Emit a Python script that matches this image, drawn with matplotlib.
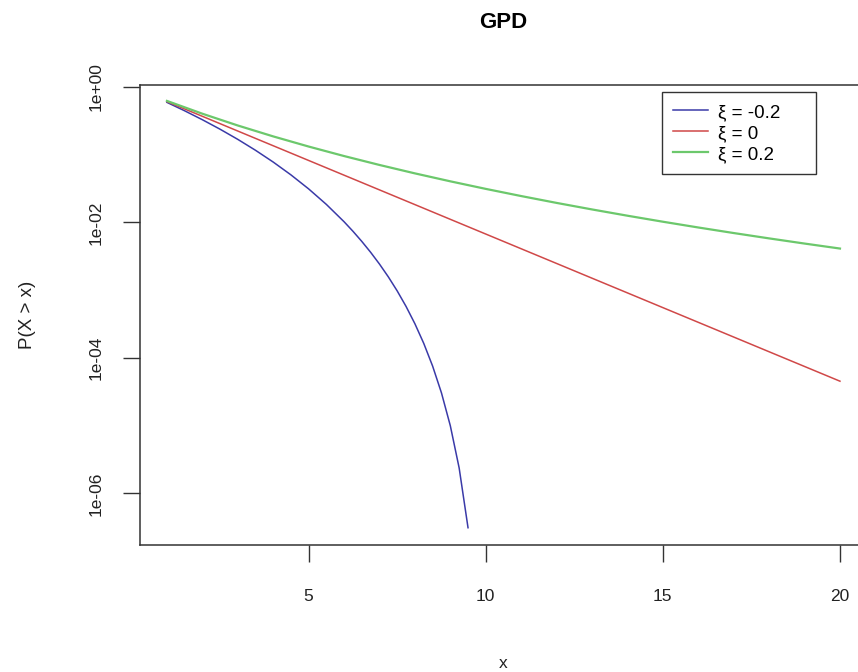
import matplotlib
matplotlib.use("Agg")
import matplotlib.pyplot as plt

plt.rcParams['font.family'] = ['Liberation Sans', 'DejaVu Sans']

# x grids
x_neg = [1, 1.5, 2, 2.5, 3, 3.5, 4, 4.5, 5, 5.5, 6, 6.25, 6.5, 6.75, 7, 7.25,
         7.5, 7.75, 8, 8.25, 8.5, 8.75, 9, 9.25, 9.5]
x_pos = [1, 2, 3, 4, 5, 6, 7, 8, 9, 10, 11, 12, 13, 14, 15, 16, 17, 18, 19, 20]

# survival probabilities P(X > x)
p_xi_neg = [0.5905, 0.4437, 0.3277, 0.2373, 0.1681, 0.1160, 0.07776, 0.05033,
            0.03125, 0.01845, 0.01024, 0.007416, 0.005252, 0.003627, 0.00243,
            0.001573, 0.0009766, 0.0005766, 0.00032, 0.0001641, 7.594e-5,
            3.052e-5, 1.0e-5, 2.373e-6, 3.125e-7]
p_xi_zero = [0.6065, 0.3679, 0.2231, 0.1353, 0.08208, 0.04979, 0.0302, 0.01832,
             0.01111, 0.006738, 0.004087, 0.002479, 0.001503, 0.000912,
             0.000553, 0.0003355, 0.0002035, 0.0001234, 7.485e-5, 4.54e-5]
p_xi_pos = [0.6209, 0.4019, 0.2693, 0.1859, 0.1317, 0.09537, 0.07043, 0.05292,
            0.04039, 0.03125, 0.02449, 0.01940, 0.01554, 0.01256, 0.01024,
            0.008417, 0.006969, 0.005810, 0.004875, 0.004115]

labels = ["ξ = -0.2", "ξ = 0", "ξ = 0.2"]
colors = ["#3a3aa8", "#d04848", "#6cc86c"]

xticks = [5, 10, 15, 20]
yticks = [1e0, 1e-2, 1e-4, 1e-6]
ytick_labels = ["1e+00", "1e-02", "1e-04", "1e-06"]

W, H = 858, 672
fig = plt.figure(figsize=(W / 100, H / 100), dpi=100)
L, R, T, B = 140.0, 866.9, 84.5, 545.0
ax = fig.add_axes([L / W, (H - B) / H, (R - L) / W, (B - T) / H])

ax.plot(x_neg, p_xi_neg, color=colors[0], lw=1.1, label=labels[0])
ax.plot(x_pos, p_xi_zero, color=colors[1], lw=1.1, label=labels[1])
ax.plot(x_pos, p_xi_pos, color=colors[2], lw=1.6, label=labels[2])

ax.set_yscale('log')
ax.set_xlim(0.24, 20.76)
ax.set_ylim(10 ** -6.76, 10 ** 0.035)
ax.set_xticks(xticks)
ax.set_xticklabels([str(t) for t in xticks])
ax.set_yticks(yticks)
ax.set_yticklabels(ytick_labels)
ax.yaxis.set_minor_locator(matplotlib.ticker.NullLocator())

for s in ax.spines.values():
    s.set_color('#333333')
    s.set_linewidth(1.1)

ax.tick_params(axis='both', direction='out', length=12, width=1.0,
               color='#333333', labelsize=12.5, labelcolor='#222222')
ax.tick_params(axis='x', pad=20)
ax.tick_params(axis='y', pad=14, labelrotation=90)
for lab in ax.get_yticklabels():
    lab.set_va('center')

ax.set_title("GPD", fontsize=16, fontweight='bold', pad=41)
ax.set_xlabel("x", fontsize=12.5, va='center', color='#222222')
ax.xaxis.set_label_coords(0.5, (B - 663) / (B - T))
ax.set_ylabel("P(X > x)", fontsize=13.5, va='center', color='#222222')
ax.yaxis.set_label_coords((27 - L) / (R - L), 0.5)

leg = ax.legend(loc='upper left',
                bbox_to_anchor=((661.7 - L) / (R - L), 0.0,
                                (816 - 661.7) / (R - L), (B - 92.3) / (B - T)),
                mode='expand', borderaxespad=0, fontsize=13.5, fancybox=False,
                framealpha=1, edgecolor='#333333', handlelength=1.85,
                handletextpad=0.55, labelspacing=0.2, borderpad=0.62)
leg.get_frame().set_linewidth(1.0)

fig.savefig("out.png", dpi=100)
